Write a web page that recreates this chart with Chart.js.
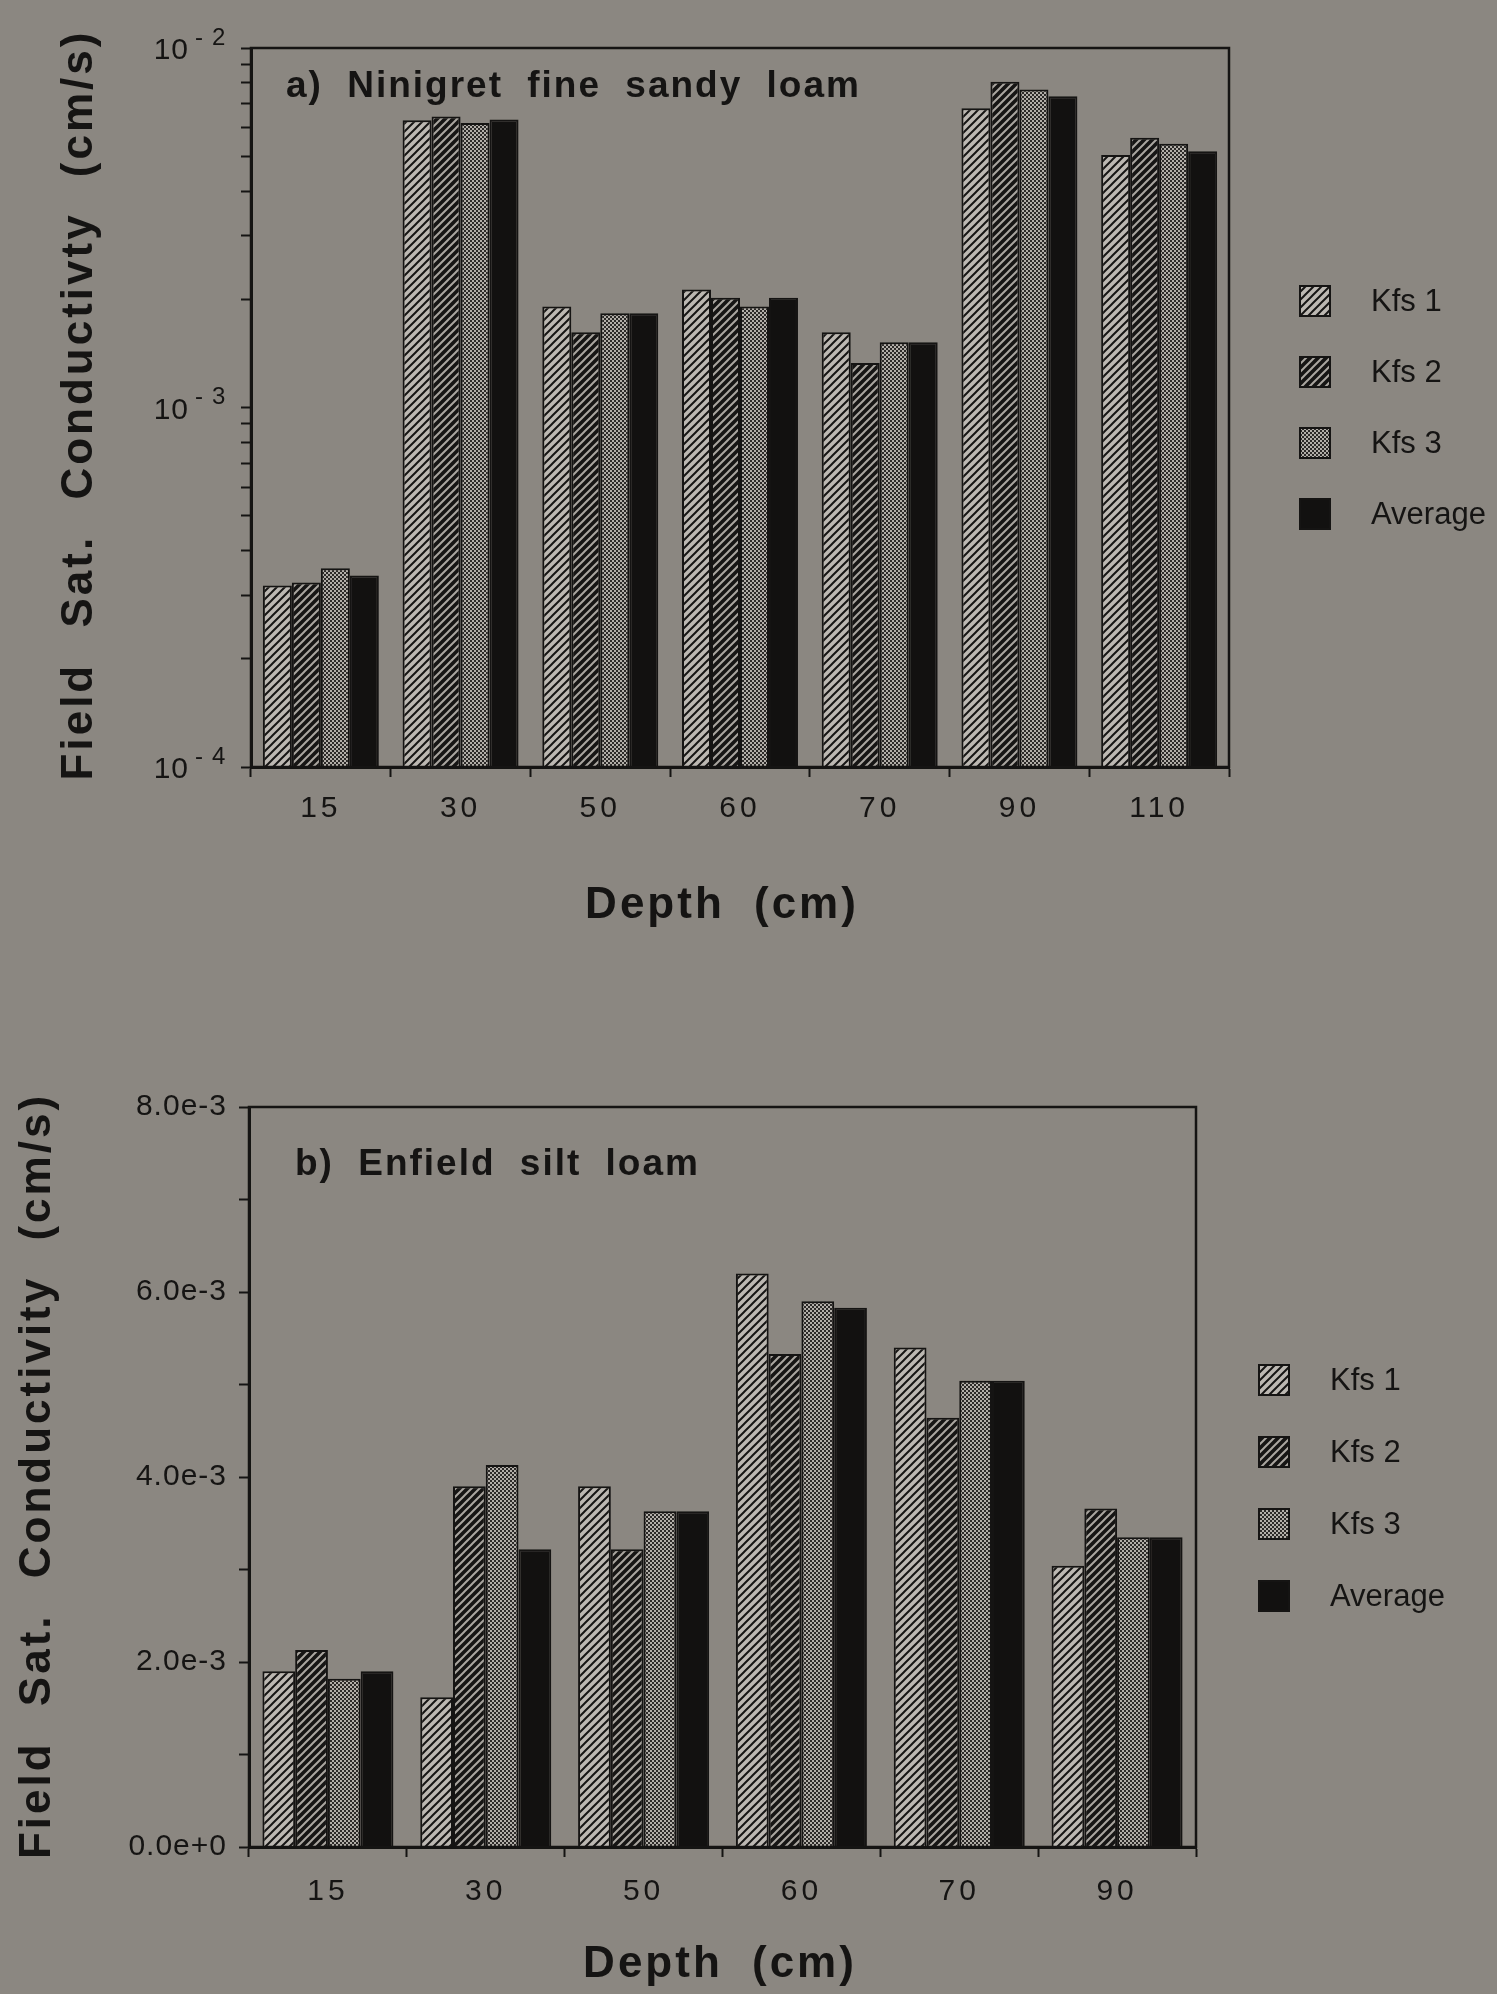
<!DOCTYPE html>
<html>
<head>
<meta charset="utf-8">
<script src="https://cdn.jsdelivr.net/npm/chart.js@4.4.1/dist/chart.umd.min.js"></script>
<style>
  html, body { margin: 0; padding: 0; background: #8b8781; }
  body { width: 1497px; height: 1994px; position: relative; overflow: hidden; }
  canvas { position: absolute; left: 0; }
  #chartA { top: 0; }
  #chartB { top: 960px; }
</style>
</head>
<body>
<canvas id="chartA" width="1497" height="960"></canvas>
<canvas id="chartB" width="1497" height="1034"></canvas>
<script>
// ---- Panel a: Ninigret fine sandy loam (log axis) ----
const depthsA = ['15', '30', '50', '60', '70', '90', '110'];
const kfs1A = [3.20e-4, 6.30e-3, 1.91e-3, 2.13e-3, 1.62e-3, 6.80e-3, 5.04e-3];
const kfs2A = [3.26e-4, 6.45e-3, 1.62e-3, 2.02e-3, 1.33e-3, 8.05e-3, 5.63e-3];
const kfs3A = [3.57e-4, 6.19e-3, 1.83e-3, 1.91e-3, 1.52e-3, 7.67e-3, 5.42e-3];
const avgA  = [3.41e-4, 6.33e-3, 1.83e-3, 2.02e-3, 1.52e-3, 7.34e-3, 5.16e-3];
const decadeExponentsA = [-4, -3, -2];
const logTickValuesA = [
  1e-4, 2e-4, 3e-4, 4e-4, 5e-4, 6e-4, 7e-4, 8e-4, 9e-4,
  1e-3, 2e-3, 3e-3, 4e-3, 5e-3, 6e-3, 7e-3, 8e-3, 9e-3,
  1e-2
];

// ---- Panel b: Enfield silt loam (linear axis) ----
const depthsB = ['15', '30', '50', '60', '70', '90'];
const kfs1B = [1.90e-3, 1.62e-3, 3.90e-3, 6.20e-3, 5.40e-3, 3.04e-3];
const kfs2B = [2.13e-3, 3.90e-3, 3.22e-3, 5.33e-3, 4.64e-3, 3.66e-3];
const kfs3B = [1.82e-3, 4.13e-3, 3.63e-3, 5.90e-3, 5.04e-3, 3.35e-3];
const avgB  = [1.90e-3, 3.22e-3, 3.63e-3, 5.83e-3, 5.04e-3, 3.35e-3];
const tickValuesB = [0, 1e-3, 2e-3, 3e-3, 4e-3, 5e-3, 6e-3, 7e-3, 8e-3];
const tickLabelsB = ['0.0e+0', '', '2.0e-3', '', '4.0e-3', '', '6.0e-3', '', '8.0e-3'];

const seriesNames = ['Kfs 1', 'Kfs 2', 'Kfs 3', 'Average'];

const INK = '#151413';
const FONT = '"Liberation Sans", Arial, Helvetica, sans-serif';
Chart.defaults.font.family = FONT;
Chart.defaults.color = INK;

// Fill patterns for the four series
function hatch(bg, fg, width, period) {
  const c = document.createElement('canvas');
  c.width = period; c.height = period;
  const g = c.getContext('2d');
  g.fillStyle = bg; g.fillRect(0, 0, period, period);
  g.strokeStyle = fg; g.lineWidth = width; g.lineCap = 'square';
  g.beginPath();
  g.moveTo(0, period); g.lineTo(period, 0);
  g.moveTo(-period / 2, period / 2); g.lineTo(period / 2, -period / 2);
  g.moveTo(period / 2, period * 1.5); g.lineTo(period * 1.5, period / 2);
  g.stroke();
  return g.createPattern(c, 'repeat');
}
function stipple(light, dark) {
  const c = document.createElement('canvas');
  c.width = 4; c.height = 4;
  const g = c.getContext('2d');
  g.fillStyle = dark; g.fillRect(0, 0, 4, 4);
  g.fillStyle = light; g.fillRect(0, 0, 2, 2); g.fillRect(2, 2, 2, 2);
  return g.createPattern(c, 'repeat');
}
const fills = [
  hatch('#bcb8b2', '#161514', 2, 8),
  hatch('#161514', '#aaa6a0', 2, 8),
  stipple('#b2aea8', '#2c2a28'),
  '#121110'
];

function makeDatasets(cols) {
  return cols.map((vals, i) => ({
    label: seriesNames[i],
    data: vals,
    backgroundColor: fills[i],
    borderColor: INK,
    borderWidth: 2,
    borderSkipped: 'bottom',
    categoryPercentage: 0.83,
    barPercentage: 1.0
  }));
}

// Frame, panel label, axis titles, legend and log tick labels
const decor = {
  id: 'decor',
  beforeDraw(chart, args, o) {
    chart.ctx.letterSpacing = o.yTickSpacing;
  },
  afterDatasetsDraw(chart, args, o) {
    chart.ctx.letterSpacing = o.xTickSpacing;
  },
  afterDraw(chart, args, o) {
    const ctx = chart.ctx, a = chart.chartArea;
    ctx.save();
    ctx.letterSpacing = '0px';
    ctx.strokeStyle = INK;
    ctx.lineWidth = 2.5;
    ctx.strokeRect(a.left, a.top, a.right - a.left, a.bottom - a.top);

    ctx.fillStyle = INK;
    ctx.textBaseline = 'middle';

    // panel label
    ctx.font = 'bold 37px ' + FONT;
    ctx.letterSpacing = '2px';
    ctx.wordSpacing = '12px';
    ctx.textAlign = 'left';
    ctx.fillText(o.panel, o.panelX, o.panelY);

    // axis titles
    ctx.font = 'bold 44px ' + FONT;
    ctx.letterSpacing = '3px';
    ctx.wordSpacing = '14px';
    ctx.textAlign = 'center';
    ctx.fillText(o.xTitle, o.xTitleX, o.xTitleY);
    ctx.wordSpacing = '20px';
    ctx.save();
    ctx.translate(o.yTitleX, o.yTitleY);
    ctx.rotate(-Math.PI / 2);
    ctx.fillText(o.yTitle, 0, 0);
    ctx.restore();

    // legend
    ctx.wordSpacing = '0px';
    ctx.letterSpacing = '0px';
    ctx.font = '31px ' + FONT;
    ctx.textAlign = 'left';
    chart.data.datasets.forEach((ds, i) => {
      const y = o.legendY + i * o.legendGap;
      ctx.fillStyle = ds.backgroundColor;
      ctx.fillRect(o.legendX, y - 15, 30, 30);
      ctx.lineWidth = 2;
      ctx.strokeStyle = INK;
      ctx.strokeRect(o.legendX, y - 15, 30, 30);
      ctx.fillStyle = INK;
      ctx.fillText(ds.label, o.legendTextX, y + 1);
    });

    // power-of-ten labels on the log axis
    if (o.decades) {
      const ys = chart.scales.y;
      o.decades.forEach(e => {
        const y = ys.getPixelForValue(Math.pow(10, e));
        ctx.font = '30px ' + FONT;
        ctx.letterSpacing = '1px';
        ctx.textAlign = 'right';
        ctx.fillText('10', 189, y + 3);
        ctx.font = '24px ' + FONT;
        ctx.letterSpacing = '9px';
        ctx.textAlign = 'left';
        ctx.fillText(String(e), 195, y - 10);
      });
    }
    ctx.restore();
  }
};

function baseOptions(opts) {
  return {
    responsive: false,
    devicePixelRatio: 1,
    animation: false,
    events: [],
    layout: { padding: opts.padding },
    plugins: {
      legend: { display: false },
      tooltip: { enabled: false },
      decor: opts.decor
    },
    scales: {
      x: {
        grid: { display: true, drawOnChartArea: false, drawTicks: true, tickLength: 10, tickWidth: 2, tickColor: INK, offset: true },
        border: { display: true, color: INK, width: 3 },
        ticks: { font: { size: 30 }, color: INK, padding: opts.xPad, z: 1, maxRotation: 0, autoSkip: false },
        afterFit: s => { s.height = opts.xHeight; }
      },
      y: Object.assign({
        grid: { display: true, drawOnChartArea: false, drawTicks: true, tickLength: 10, tickWidth: 2, tickColor: INK },
        border: { display: true, color: INK, width: 3 },
        afterFit: s => { s.width = opts.yWidth; }
      }, opts.y)
    }
  };
}

new Chart(document.getElementById('chartA'), {
  type: 'bar',
  data: { labels: depthsA, datasets: makeDatasets([kfs1A, kfs2A, kfs3A, avgA]) },
  options: baseOptions({
    padding: { left: 0, right: 268, top: 48, bottom: 0 },
    xHeight: 193,
    yWidth: 251,
    xPad: 14,
    y: {
      type: 'logarithmic',
      min: 1e-4,
      max: 1e-2,
      afterBuildTicks: s => { s.ticks = logTickValuesA.map(v => ({ value: v })); },
      ticks: { autoSkip: false, callback: () => '' }
    },
    decor: {
      panel: 'a) Ninigret fine sandy loam', panelX: 286, panelY: 87,
      xTitle: 'Depth (cm)', xTitleX: 722, xTitleY: 906,
      yTitle: 'Field Sat. Conductivty (cm/s)', yTitleX: 80, yTitleY: 405,
      legendX: 1300, legendTextX: 1371, legendY: 301, legendGap: 71,
      decades: decadeExponentsA,
      yTickSpacing: '0px', xTickSpacing: '4px'
    }
  }),
  plugins: [decor]
});

new Chart(document.getElementById('chartB'), {
  type: 'bar',
  data: { labels: depthsB, datasets: makeDatasets([kfs1B, kfs2B, kfs3B, avgB]) },
  options: baseOptions({
    padding: { left: 0, right: 301, top: 147, bottom: 0 },
    xHeight: 147,
    yWidth: 249,
    xPad: 17,
    y: {
      type: 'linear',
      min: 0,
      max: 8e-3,
      afterBuildTicks: s => { s.ticks = tickValuesB.map(v => ({ value: v })); },
      ticks: { autoSkip: false, font: { size: 30 }, color: INK, padding: 12,
               callback: (v, i) => tickLabelsB[i] }
    },
    decor: {
      panel: 'b) Enfield silt loam', panelX: 295, panelY: 205,
      xTitle: 'Depth (cm)', xTitleX: 720, xTitleY: 1005,
      yTitle: 'Field Sat. Conductivity (cm/s)', yTitleX: 38, yTitleY: 516,
      legendX: 1259, legendTextX: 1330, legendY: 420, legendGap: 72,
      decades: null,
      yTickSpacing: '1px', xTickSpacing: '4px'
    }
  }),
  plugins: [decor]
});
</script>
</body>
</html>
